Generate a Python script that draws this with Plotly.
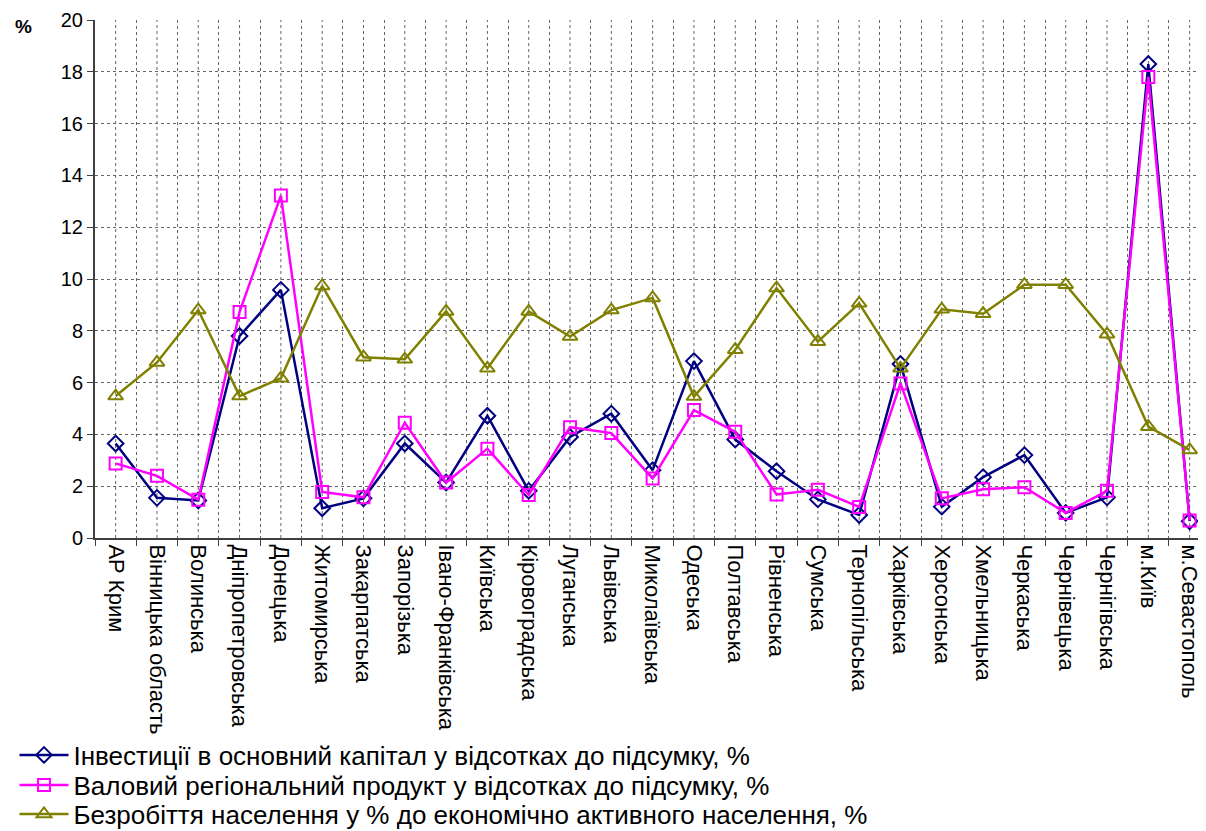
import plotly.graph_objects as go

categories = ["АР Крим", "Вінницька область", "Волинська", "Дніпропетровська", "Донецька",
              "Житомирська", "Закарпатська", "Запорізька", "Івано-Франківська", "Київська",
              "Кіровоградська", "Луганська", "Львівська", "Миколаївська", "Одеська",
              "Полтавська", "Рівненська", "Сумська", "Тернопільська", "Харківська",
              "Херсонська", "Хмельницька", "Черкаська", "Чернівецька", "Чернігівська",
              "м.Київ", "м.Севастополь"]

investments = [3.65, 1.55, 1.45, 7.8, 9.58, 1.15, 1.53, 3.65, 2.14, 4.72,
               1.82, 3.9, 4.8, 2.62, 6.83, 3.8, 2.58, 1.49, 0.89, 6.72,
               1.21, 2.35, 3.2, 0.97, 1.57, 18.3, 0.65]
grp = [2.88, 2.4, 1.48, 8.73, 13.22, 1.78, 1.57, 4.45, 2.14, 3.45,
       1.66, 4.28, 4.05, 2.3, 4.94, 4.1, 1.68, 1.86, 1.2, 5.97,
       1.53, 1.88, 1.96, 0.97, 1.82, 17.8, 0.68]
unemployment = [5.48, 6.78, 8.8, 5.48, 6.17, 9.73, 6.98, 6.9, 8.75, 6.55,
                8.75, 7.78, 8.8, 9.27, 5.46, 7.27, 9.65, 7.58, 9.06, 6.55,
                8.83, 8.66, 9.78, 9.78, 7.87, 4.3, 3.4]

names = ["Інвестиції в основний капітал у відсотках до підсумку, %",
         "Валовий регіональний продукт у відсотках до підсумку, %",
         "Безробіття населення у % до економічно активного населення, %"]

FONT = "Liberation Sans, Arial, sans-serif"
W, H = 1206, 831

fig = go.Figure()
fig.add_trace(go.Scatter(x=categories, y=investments, name=names[0], mode="lines+markers",
                         legend="legend",
                         line=dict(color="#000080", width=2.5),
                         marker=dict(symbol="diamond-open", size=12, color="#000080",
                                     line=dict(width=2, color="#000080"))))
fig.add_trace(go.Scatter(x=categories, y=grp, name=names[1], mode="lines+markers",
                         legend="legend2",
                         line=dict(color="#FF00FF", width=2.5),
                         marker=dict(symbol="square-open", size=12, color="#FF00FF",
                                     line=dict(width=2, color="#FF00FF"))))
fig.add_trace(go.Scatter(x=categories, y=unemployment, name=names[2], mode="lines+markers",
                         legend="legend3",
                         line=dict(color="#808000", width=2.5),
                         marker=dict(symbol="triangle-up-open", size=13, color="#808000",
                                     line=dict(width=2, color="#808000"))))

# dotted vertical gridlines at category centres
for c in categories:
    fig.add_shape(type="line", xref="x", yref="y", x0=c, x1=c, y0=0, y1=20,
                  line=dict(color="#666666", width=1, dash="dot"), layer="below")


def leg(cy):
    return dict(xref="container", yref="container", x=6.5 / W, y=1 - cy / H,
                xanchor="left", yanchor="middle", font=dict(size=26, family=FONT),
                itemwidth=49, bgcolor="rgba(0,0,0,0)", borderwidth=0)


fig.update_layout(
    width=W, height=H,
    margin=dict(l=87, r=0, t=12, b=301, autoexpand=False),
    paper_bgcolor="white", plot_bgcolor="white",
    font=dict(family=FONT, size=20, color="black"),
    showlegend=True,
    legend=leg(747), legend2=leg(777), legend3=leg(806),
    annotations=[dict(text="<b>%</b>", xref="paper", yref="paper", x=-0.0733, y=0.9865,
                      xanchor="left", yanchor="middle", showarrow=False,
                      font=dict(size=19, family=FONT))],
)

fig.update_xaxes(type="category", categoryorder="array", categoryarray=categories,
                 range=[-0.5, 26.59], tickson="boundaries", ticks="outside", ticklen=6,
                 tickcolor="#404040", showline=True, linecolor="#404040", linewidth=2,
                 showgrid=True, gridcolor="#666666", griddash="dot", gridwidth=1,
                 tickangle=90, tickfont=dict(size=22, family=FONT))
fig.update_yaxes(range=[0, 20], dtick=2, ticks="outside", ticklen=6, tickcolor="#404040",
                 showline=True, linecolor="#404040", linewidth=2,
                 showgrid=True, gridcolor="#666666", griddash="dot", gridwidth=1,
                 zeroline=False, tickfont=dict(size=20, family=FONT))

fig.write_html("out.html")
